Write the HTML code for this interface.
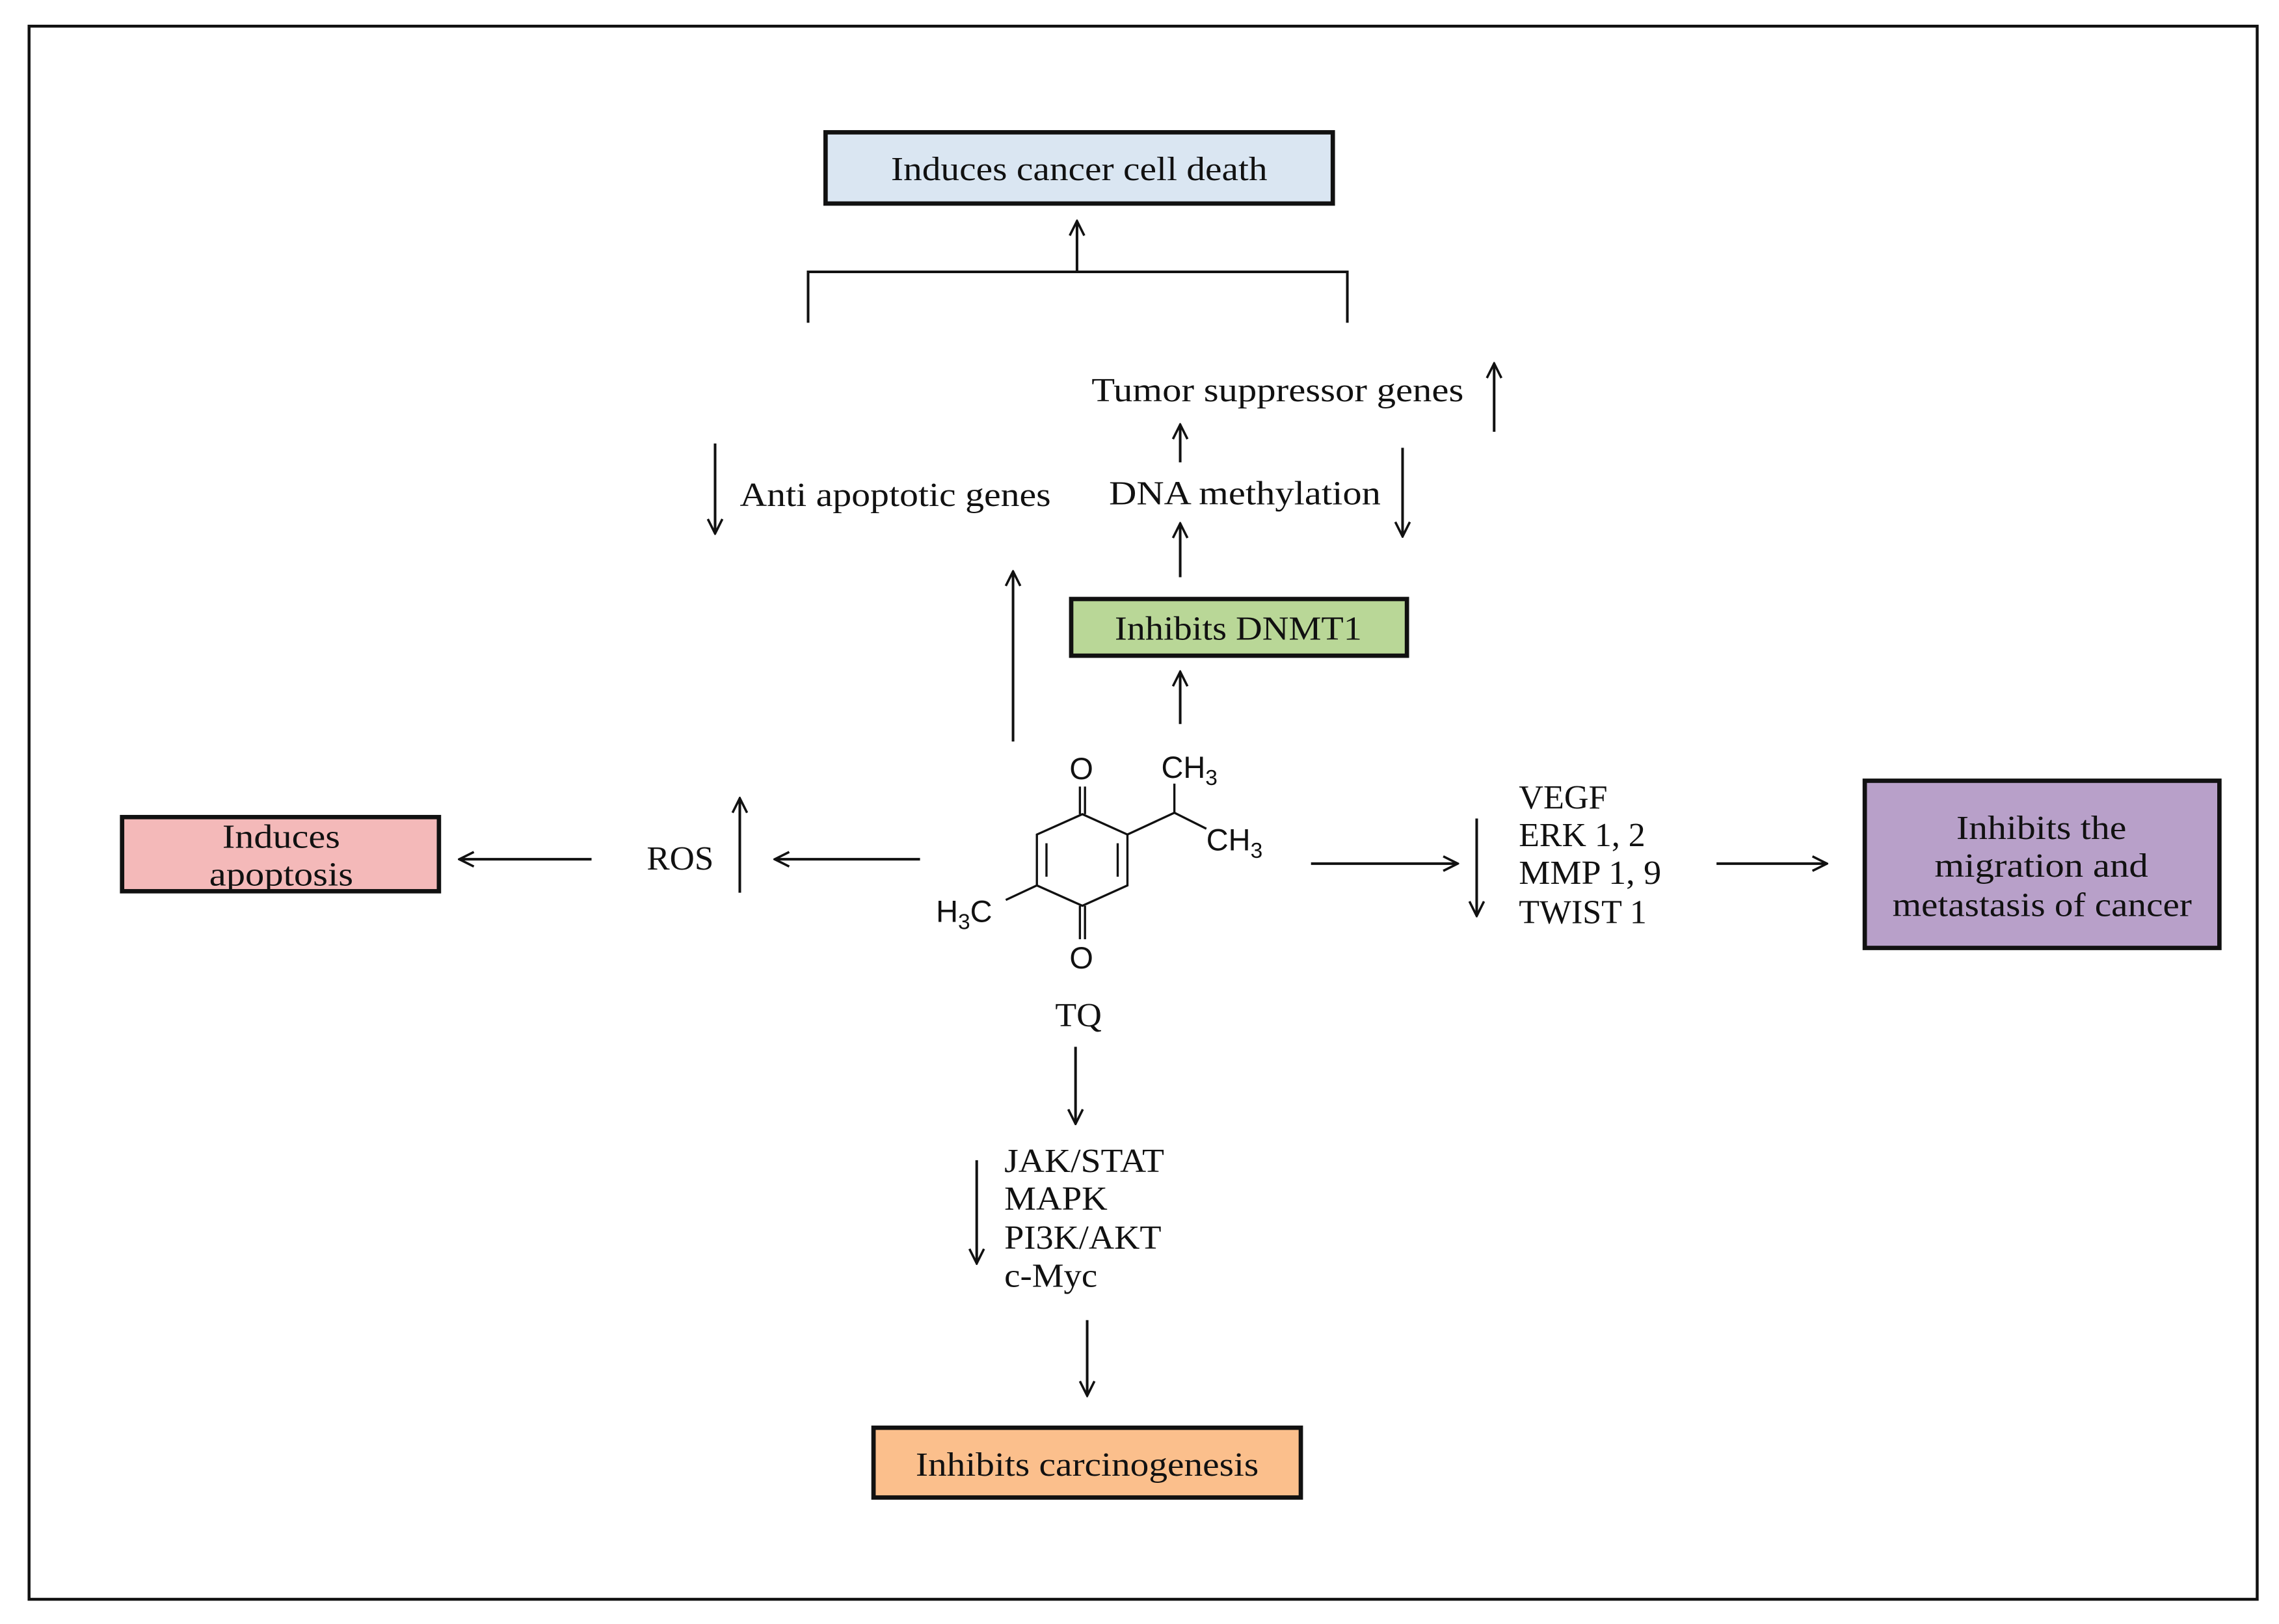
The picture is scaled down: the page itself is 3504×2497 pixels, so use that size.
<!DOCTYPE html>
<html><head><meta charset="utf-8"><style>
html,body{margin:0;padding:0;background:#fff;}
svg{display:block;}
text{font-family:"Liberation Serif",serif;fill:#111;}
.s{font-family:"Liberation Sans",sans-serif;}
</style></head><body>
<svg width="3504" height="2497" viewBox="0 0 1568 1117" preserveAspectRatio="none" xmlns="http://www.w3.org/2000/svg">
<defs>
<marker id="a" viewBox="0 0 12 12" refX="11" refY="6" markerWidth="12" markerHeight="12" markerUnits="userSpaceOnUse" orient="auto">
<path d="M1,1 L11,6 L1,11" fill="none" stroke="#111" stroke-width="1.6"/>
</marker>
</defs>
<rect x="20" y="18" width="1533" height="1082" fill="none" stroke="#111" stroke-width="2"/>
<g stroke="#111" stroke-width="1.8" fill="none">
<line x1="741" y1="187" x2="741" y2="152" marker-end="url(#a)"/>
<polyline points="556,222 556,187 927,187 927,222"/>
<line x1="1028" y1="297" x2="1028" y2="250" marker-end="url(#a)"/>
<line x1="812" y1="318" x2="812" y2="292" marker-end="url(#a)"/>
<line x1="492" y1="305" x2="492" y2="367" marker-end="url(#a)"/>
<line x1="965" y1="308" x2="965" y2="369" marker-end="url(#a)"/>
<line x1="812" y1="397" x2="812" y2="360" marker-end="url(#a)"/>
<line x1="697" y1="510" x2="697" y2="393" marker-end="url(#a)"/>
<line x1="812" y1="498" x2="812" y2="462" marker-end="url(#a)"/>
<line x1="633" y1="591" x2="533" y2="591" marker-end="url(#a)"/>
<line x1="509" y1="614" x2="509" y2="549" marker-end="url(#a)"/>
<line x1="407" y1="591" x2="316" y2="591" marker-end="url(#a)"/>
<line x1="902" y1="594" x2="1003" y2="594" marker-end="url(#a)"/>
<line x1="1016" y1="563" x2="1016" y2="630" marker-end="url(#a)"/>
<line x1="1181" y1="594" x2="1257" y2="594" marker-end="url(#a)"/>
<line x1="740" y1="720" x2="740" y2="773" marker-end="url(#a)"/>
<line x1="672" y1="798" x2="672" y2="869" marker-end="url(#a)"/>
<line x1="748" y1="908" x2="748" y2="960" marker-end="url(#a)"/>
</g>
<g stroke="#111" stroke-width="3">
<rect x="568" y="91" width="349" height="49" fill="#dae6f2"/>
<rect x="737" y="412" width="231" height="39" fill="#b9d797"/>
<rect x="84" y="562" width="218" height="51" fill="#f4b9b9"/>
<rect x="1283" y="537" width="244" height="115" fill="#b8a0c9"/>
<rect x="601" y="982" width="294" height="48" fill="#fbbf8c"/>
</g>
<g font-size="23" lengthAdjust="spacingAndGlyphs">
<text x="613" y="124" textLength="259" lengthAdjust="spacingAndGlyphs">Induces cancer cell death</text>
<text x="767" y="440" textLength="170" lengthAdjust="spacingAndGlyphs">Inhibits DNMT1</text>
<text x="153" y="583" textLength="81" lengthAdjust="spacingAndGlyphs">Induces</text>
<text x="144" y="609" textLength="99" lengthAdjust="spacingAndGlyphs">apoptosis</text>
<text x="1346" y="577" textLength="117" lengthAdjust="spacingAndGlyphs">Inhibits the</text>
<text x="1331" y="603" textLength="147" lengthAdjust="spacingAndGlyphs">migration and</text>
<text x="1302" y="630" textLength="206" lengthAdjust="spacingAndGlyphs">metastasis of cancer</text>
<text x="630" y="1015" textLength="236" lengthAdjust="spacingAndGlyphs">Inhibits carcinogenesis</text>
<text x="726" y="706" textLength="32" lengthAdjust="spacingAndGlyphs">TQ</text>
<text x="445" y="598" textLength="46" lengthAdjust="spacingAndGlyphs">ROS</text>
<text x="751" y="276" textLength="256" lengthAdjust="spacingAndGlyphs">Tumor suppressor genes</text>
<text x="509" y="348" textLength="214" lengthAdjust="spacingAndGlyphs">Anti apoptotic genes</text>
<text x="763" y="347" textLength="187" lengthAdjust="spacingAndGlyphs">DNA methylation</text>
<text x="1045" y="556" textLength="61" lengthAdjust="spacingAndGlyphs">VEGF</text>
<text x="1045" y="582" textLength="87" lengthAdjust="spacingAndGlyphs">ERK 1, 2</text>
<text x="1045" y="608" textLength="98" lengthAdjust="spacingAndGlyphs">MMP 1, 9</text>
<text x="1045" y="635" textLength="88" lengthAdjust="spacingAndGlyphs">TWIST 1</text>
<text x="691" y="806" textLength="110" lengthAdjust="spacingAndGlyphs">JAK/STAT</text>
<text x="691" y="832" textLength="71" lengthAdjust="spacingAndGlyphs">MAPK</text>
<text x="691" y="859" textLength="108" lengthAdjust="spacingAndGlyphs">PI3K/AKT</text>
<text x="691" y="885" textLength="64" lengthAdjust="spacingAndGlyphs">c-Myc</text>
</g>
<g stroke="#111" stroke-width="1.5" fill="none">
<polygon points="744.7,560 775.7,574 775.7,609 744.7,623 713.4,609 713.4,574"/>
<line x1="720" y1="580" x2="720" y2="603"/>
<line x1="769" y1="580" x2="769" y2="603"/>
<line x1="743" y1="560" x2="743" y2="541"/>
<line x1="746.5" y1="560" x2="746.5" y2="541"/>
<line x1="743" y1="623" x2="743" y2="646"/>
<line x1="746.5" y1="623" x2="746.5" y2="646"/>
<polyline points="775.7,574 808,559 808,539"/>
<line x1="808" y1="559" x2="830" y2="570"/>
<line x1="713.4" y1="609" x2="692" y2="619"/>
</g>
<g class="s" font-size="21">
<text class="s" x="744" y="536" text-anchor="middle">O</text>
<text class="s" x="744" y="666" text-anchor="middle">O</text>
<text class="s" x="799" y="535">CH<tspan font-size="15" dy="5">3</tspan></text>
<text class="s" x="830" y="585">CH<tspan font-size="15" dy="5">3</tspan></text>
<text class="s" x="644" y="634">H<tspan font-size="15" dy="5">3</tspan><tspan dy="-5">C</tspan></text>
</g>
</svg>
</body></html>
